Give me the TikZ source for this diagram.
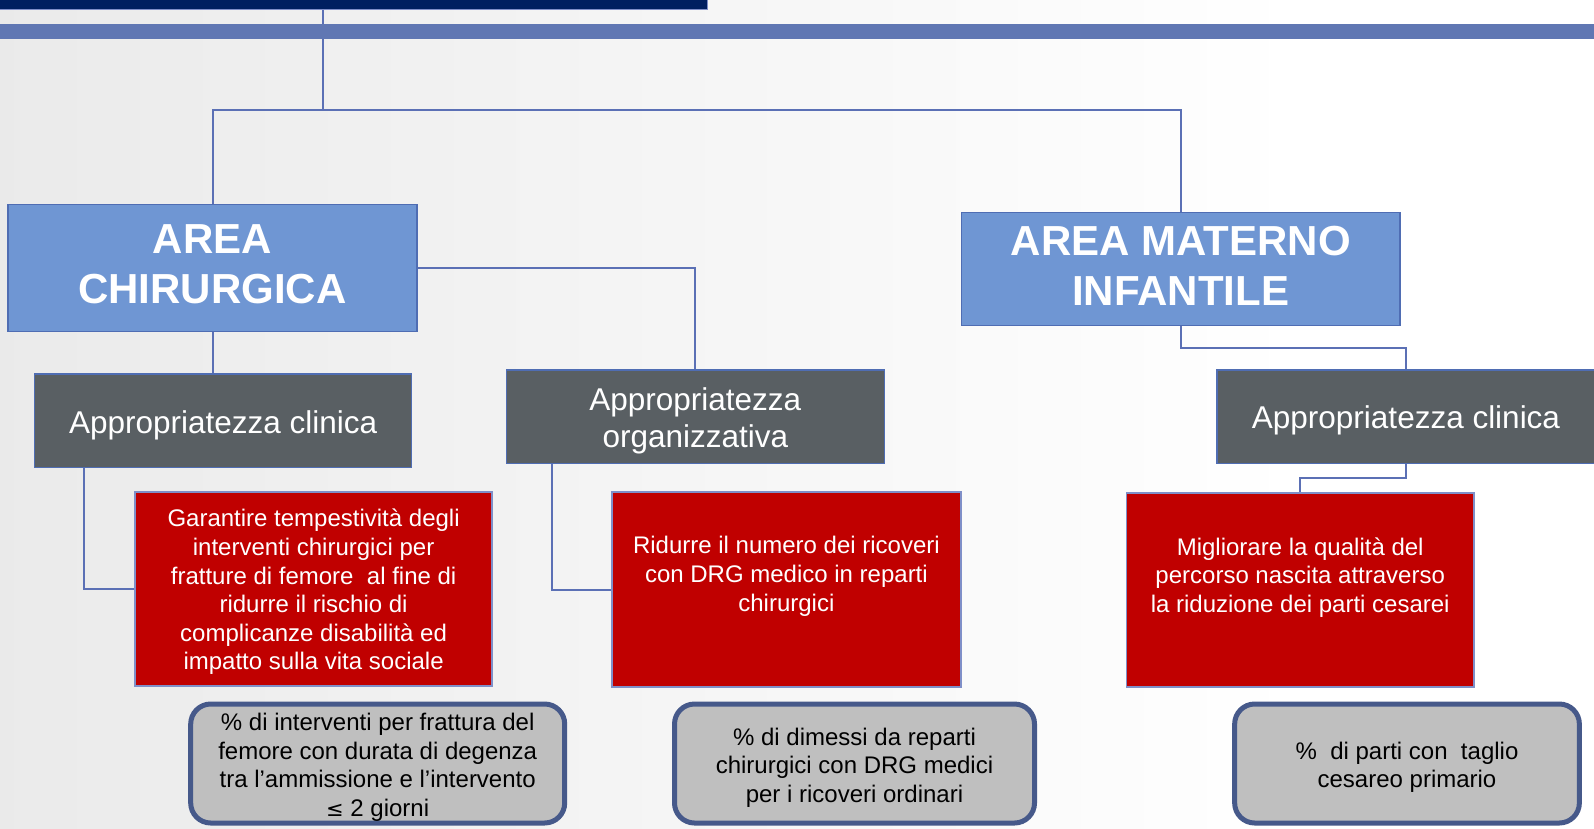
\documentclass[tikz,border=0pt]{standalone}
\usepackage{fontspec}
\setmainfont{Liberation Sans}
\definecolor{navy}{HTML}{002060}
\definecolor{band}{HTML}{6077B3}
\definecolor{areablue}{HTML}{6F96D3}
\definecolor{areaborder}{HTML}{4F6DB3}
\definecolor{dgray}{HTML}{595F63}
\definecolor{goalred}{HTML}{C00000}
\definecolor{goalborder}{HTML}{7F8FC8}
\definecolor{indfill}{HTML}{BFBFBF}
\definecolor{indborder}{HTML}{46598A}
\definecolor{conncol}{HTML}{5B70B5}
\tikzset{
  areabox/.style={fill=areablue, draw=areaborder, line width=1.5pt, inner sep=0pt},
  areatext/.style={text=white, inner sep=0pt, align=center, font=\fontsize{42}{50}\selectfont\bfseries},
  apprbox/.style={fill=dgray, draw=areaborder, line width=1.5pt, inner sep=0pt},
  apprtext/.style={text=white, inner sep=0pt, align=center, font=\fontsize{31.5}{37}\selectfont},
  goalbox/.style={fill=goalred, draw=goalborder, line width=1.5pt, inner sep=0pt},
  goaltext/.style={text=white, inner sep=0pt, align=center, font=\fontsize{24}{28.6}\selectfont},
  indbox/.style={fill=indfill, draw=indborder, line width=5pt, rounded corners=20pt, inner sep=0pt},
  indtext/.style={text=black, inner sep=0pt, align=center, font=\fontsize{24}{28.5}\selectfont},
  conn/.style={draw=conncol, line width=2pt},
}
\begin{document}
\begin{tikzpicture}[x=1pt,y=-1pt]
\useasboundingbox (0,0) rectangle (1594,828);
\fill[white] (0,0) rectangle (1594,828);
\shade[left color=black!10, right color=white, shading angle=90] (-300,0) rectangle (1300,828);
% top bar
\node[fill=navy, draw=goalborder, line width=1pt, minimum width=708pt, minimum height=14pt, inner sep=0pt, anchor=north west] (top) at (-1,-5) {};
\coordinate (hub) at (323,110);
% boxes
\node[areabox, minimum width=408.7pt, minimum height=127pt] (chir) at (212.5,267.9) {};
\node[areabox, minimum width=438.2pt, minimum height=112.8pt] (mat) at (1180.8,268.9) {};
\node[apprbox, minimum width=377pt, minimum height=93.5pt] (clinL) at (223.1,420.9) {};
\node[apprbox, minimum width=378pt, minimum height=93.6pt] (org) at (695.3,416.8) {};
\node[apprbox, minimum width=378pt, minimum height=93.6pt] (clinR) at (1406,416.8) {};
\node[goalbox, minimum width=356.8pt, minimum height=194.2pt] (red1) at (313.6,589.1) {};
\node[goalbox, minimum width=348.7pt, minimum height=195.2pt] (red2) at (786.4,589.6) {};
\node[goalbox, minimum width=347.7pt, minimum height=194.2pt] (red3) at (1300.2,590.1) {};
\node[indbox, minimum width=374pt, minimum height=119pt] (ind1) at (377.7,763.5) {};
\node[indbox, minimum width=360pt, minimum height=119pt] (ind2) at (854.5,763.5) {};
\node[indbox, minimum width=344.7pt, minimum height=119pt] (ind3) at (1407,763.5) {};
% texts
\node[areatext] (chirT) at ([yshift=4pt]chir.center) {AREA\\CHIRURGICA};
\node[areatext] (matT) at ([yshift=3pt]mat.center) {AREA MATERNO\\INFANTILE};
\node[apprtext] (clinLT) at ([yshift=-4pt]clinL.center) {Appropriatezza clinica};
\node[apprtext] (orgT) at ([yshift=-4pt]org.center) {Appropriatezza\\organizzativa};
\node[apprtext] (clinRT) at ([yshift=-4pt]clinR.center) {Appropriatezza clinica};
\node[goaltext] (t1) at ([yshift=-3pt]red1.center) {Garantire tempestività degli\\interventi chirurgici per\\fratture di femore\ \ al fine di\\ridurre il rischio di\\complicanze disabilità ed\\impatto sulla vita sociale};
\node[goaltext, anchor=north] (t2) at ([yshift=-45pt]red2.north) {Ridurre il numero dei ricoveri\\con DRG medico in reparti\\chirurgici};
\node[goaltext, anchor=north] (t3) at ([yshift=-45pt]red3.north) {Migliorare la qualità del\\percorso nascita attraverso\\la riduzione dei parti cesarei};
\node[indtext] (i1) at ([yshift=-4pt]ind1.center) {\% di interventi per frattura del\\femore con durata di degenza\\tra l’ammissione e l’intervento\\{\fontspec{DejaVu Sans}\fontsize{21}{28.5}\selectfont ≤} 2 giorni};
\node[indtext] (i2) at ([yshift=-4pt]ind2.center) {\% di dimessi da reparti\\chirurgici con DRG medici\\per i ricoveri ordinari};
\node[indtext] (i3) at ([yshift=-4pt]ind3.center) {\%\ \ di parti con\ \ taglio\\cesareo primario};
% connectors
\draw[conn] (top.south -| hub) -- (hub);
\draw[conn] (chir.north) |- (hub) -| (mat.north);
\draw[conn] (chir.east) -| (org.north);
\draw[conn] (chir.south) -- (chir.south |- clinL.north);
\draw[conn] ([xshift=-138.7pt]clinL.south) |- (red1.west);
\draw[conn] ([xshift=-143.3pt]org.south) |- (red2.west);
\draw[conn] (mat.south) -- ++(0,22.4) -| (clinR.north);
\draw[conn] (clinR.south) -- ++(0,13.2) -| (red3.north);
% band
\fill[band] (0,24) rectangle (1594,39);
\end{tikzpicture}
\end{document}
